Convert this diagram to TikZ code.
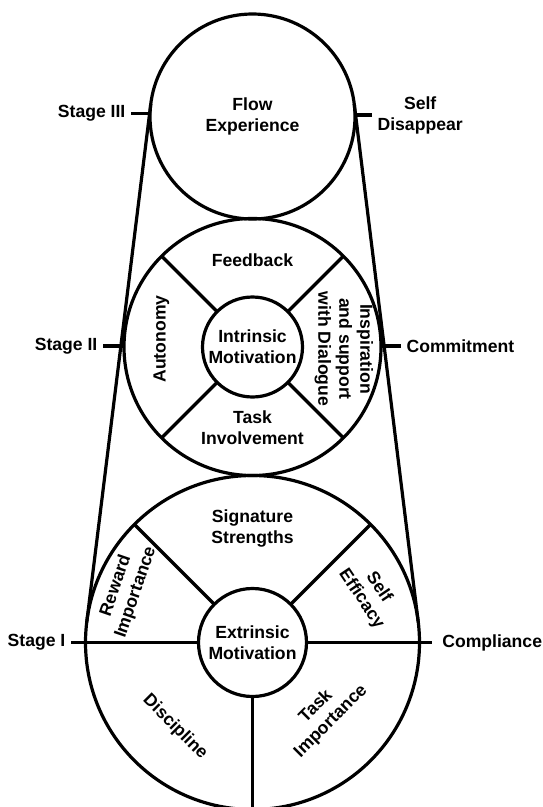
\documentclass[tikz,border=0pt]{standalone}
\usepackage{fontspec}
\setmainfont{Liberation Sans}
\tikzset{
  every picture/.style={line join=round},
  % circles of the three stages, drawn as nodes so spokes can use their anchors
  ring/.style={circle, draw, line width=3.2pt, inner sep=0pt, outer sep=0pt, align=center},
  % stage names and outcomes on the two sides
  stagelbl/.style={inner xsep=4pt, inner ysep=0pt, align=center},
  % texts inside the sectors
  part/.style={align=center, inner sep=0pt},
}
\begin{document}
\begin{tikzpicture}[x=1pt, y=-1pt, line width=3.2pt, font=\fontsize{17.6}{21}\selectfont\bfseries]
  \fill[white] (0,0) rectangle (542,807);
  \useasboundingbox (0,0) rectangle (542,807);

  % stage III
  \node[ring, minimum size=205] (flow) at (252.5,116.5) {Flow\\Experience};
  \node[stagelbl, anchor=east] (s3) at (131,113.5) {Stage III};
  \node[stagelbl, anchor=west] (selfd) at (372,115) {Self\\Disappear};
  \draw (s3.east) -- (s3.east -| flow.west);
  \draw (selfd.west) -- (selfd.west -| flow.east);

  % stage II
  \node[ring, minimum size=257] (mid) at (252.5,347) {};
  \node[ring, minimum size=100] (intr) at (252.5,347) {Intrinsic\\Motivation};
  \foreach \a in {45,135,225,315}
    \draw (intr.\a) -- (mid.\a);
  \node[part] (feedback) at (252.5,260) {Feedback};
  \node[part] (involve) at (252.5,428) {Task\\Involvement};
  \node[part, rotate=90] (autonomy) at (161.5,339) {Autonomy};
  \node[part, rotate=-90] (inspire) at (344,349) {Inspiration\\and support\\with Dialogue};
  \node[stagelbl, anchor=east] (s2) at (103,346) {Stage II};
  \node[stagelbl, anchor=west] (commit) at (401,346) {Commitment};
  \draw (s2.east) -- (s2.east -| mid.west);
  \draw (commit.west) -- (commit.west -| mid.east);

  % stage I
  \node[ring, minimum size=334] (low) at (252.5,642.5) {};
  \node[ring, minimum size=108] (extr) at (252.5,642.5) {Extrinsic\\Motivation};
  \foreach \a in {45,135,270}
    \draw (extr.\a) -- (low.\a);
  \node[part] (signature) at (252.5,528) {Signature\\Strengths};
  \node[part, rotate=71] (reward) at (126,589) {Reward\\Importance};
  \node[part, rotate=-56] (efficacy) at (370,593) {Self\\Efficacy};
  \node[part, rotate=-45] (discipline) at (175,727) {Discipline};
  \node[part, rotate=45] (taskimp) at (323.5,714) {Task\\Importance};
  \node[stagelbl, anchor=east] (s1) at (71,642.5) {Stage I};
  \node[stagelbl, anchor=west, inner xsep=9pt] (comp) at (431.7,642.5) {Compliance};
  \draw (s1.east) -- (extr.west);
  \draw (extr.east) -- (comp.west);

  % common tangents of the top and bottom circles
  \draw (flow.173) -- (low.173);
  \draw (flow.7) -- (low.7);
\end{tikzpicture}
\end{document}
